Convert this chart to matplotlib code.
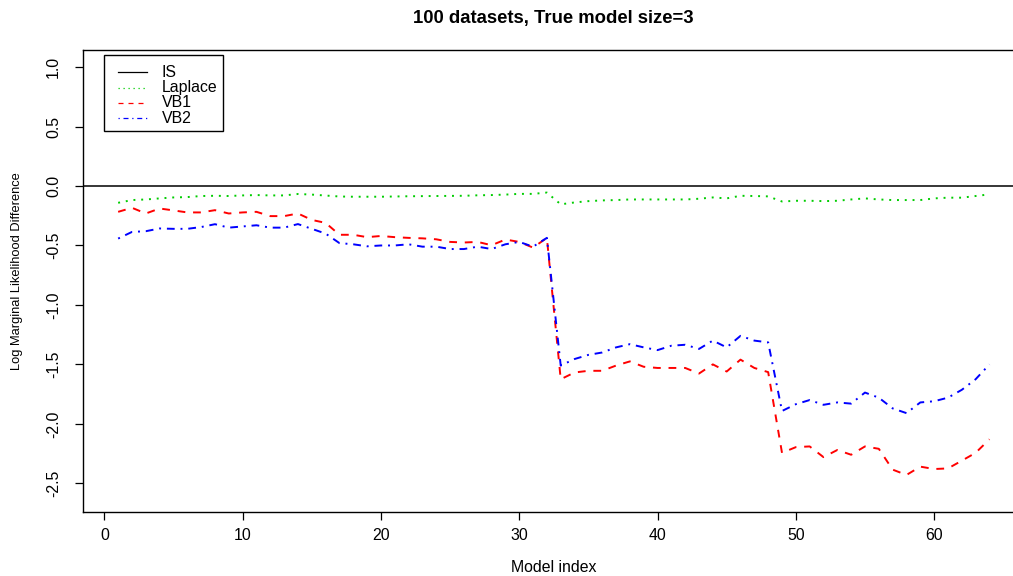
import matplotlib
matplotlib.use("Agg")
import matplotlib.pyplot as plt
from matplotlib.lines import Line2D
from matplotlib.patches import Rectangle

plt.rcParams['font.family'] = ['Liberation Sans', 'DejaVu Sans']

# model index 1..64
model_index = list(range(1, 65))

# log marginal likelihood difference relative to IS (IS itself is the zero reference)
is_diff = 0.0

laplace = [-0.141, -0.118, -0.113, -0.104, -0.096, -0.093, -0.084, -0.082, -0.084, -0.079,
           -0.076, -0.079, -0.079, -0.067, -0.072, -0.080, -0.088, -0.090, -0.090, -0.090,
           -0.088, -0.086, -0.085, -0.084, -0.083, -0.082, -0.078, -0.076, -0.072, -0.066,
           -0.066, -0.055, -0.154, -0.138, -0.127, -0.121, -0.118, -0.113, -0.113, -0.113,
           -0.113, -0.113, -0.107, -0.096, -0.104, -0.082, -0.084, -0.087, -0.130, -0.124,
           -0.124, -0.127, -0.124, -0.113, -0.104, -0.113, -0.118, -0.118, -0.118, -0.104,
           -0.098, -0.098, -0.084, -0.070]

vb1 = [-0.217, -0.183, -0.231, -0.189, -0.205, -0.222, -0.222, -0.203, -0.231, -0.222,
       -0.217, -0.253, -0.253, -0.231, -0.285, -0.310, -0.410, -0.410, -0.430, -0.420,
       -0.430, -0.436, -0.440, -0.448, -0.470, -0.475, -0.470, -0.498, -0.450, -0.470,
       -0.518, -0.436, -1.625, -1.568, -1.554, -1.554, -1.510, -1.475, -1.520, -1.530,
       -1.530, -1.530, -1.577, -1.500, -1.560, -1.460, -1.530, -1.565, -2.244, -2.196,
       -2.190, -2.280, -2.220, -2.260, -2.190, -2.210, -2.385, -2.430, -2.360, -2.380,
       -2.375, -2.310, -2.244, -2.130]

vb2 = [-0.442, -0.386, -0.380, -0.357, -0.360, -0.360, -0.345, -0.321, -0.350, -0.340,
       -0.330, -0.350, -0.350, -0.320, -0.360, -0.400, -0.480, -0.490, -0.507, -0.500,
       -0.500, -0.490, -0.510, -0.510, -0.530, -0.530, -0.510, -0.530, -0.490, -0.470,
       -0.510, -0.436, -1.510, -1.455, -1.420, -1.400, -1.357, -1.330, -1.357, -1.380,
       -1.343, -1.335, -1.370, -1.300, -1.357, -1.260, -1.300, -1.315, -1.892, -1.835,
       -1.800, -1.840, -1.820, -1.830, -1.737, -1.780, -1.870, -1.910, -1.820, -1.810,
       -1.780, -1.714, -1.625, -1.500]

labels = ["IS", "Laplace", "VB1", "VB2"]
colors = ["black", "#00CD00", "#FF0000", "#0000FF"]
dash_styles = [None, (1, 3), (4, 4), (1, 3, 4, 3)]

x_ticks = [0, 10, 20, 30, 40, 50, 60]
y_ticks = [-2.5, -2.0, -1.5, -1.0, -0.5, 0.0, 0.5, 1.0]

W, H = 1013, 576
fs = 11.4
fig = plt.figure(figsize=(W / 100, H / 100), dpi=100)
# axes box runs a little past the right edge of the picture
ax = fig.add_axes([83.3 / W, 1 - 512.3 / H, 941.0 / W, 462.3 / H])

lw = 1.4
ax.axhline(is_diff, color=colors[0], lw=1.1)
ax.plot(model_index, laplace, color=colors[1], lw=lw, dashes=dash_styles[1])
ax.plot(model_index, vb1, color=colors[2], lw=lw, dashes=dash_styles[2])
ax.plot(model_index, vb2, color=colors[3], lw=lw, dashes=dash_styles[3])

ax.set_xlim(-1.52, 66.52)
ax.set_ylim(-2.744, 1.144)
ax.set_xticks(x_ticks)
ax.set_yticks(y_ticks)
ax.set_yticklabels(["%.1f" % v for v in y_ticks], rotation=90, va="center")
ax.tick_params(axis="both", direction="out", length=5.5, width=0.9, labelsize=fs, color="black")
ax.tick_params(axis="x", pad=6)
ax.tick_params(axis="y", pad=10.6)
for s in ax.spines.values():
    s.set_linewidth(1.0)

fig.text(553.8 / W, 1 - 19 / H, "100 datasets, True model size=3",
         ha="center", va="center", fontsize=13.3, fontweight="bold")
fig.text(553.8 / W, 1 - 567 / H, "Model index", ha="center", va="center", fontsize=fs)
fig.text(17.5 / W, 1 - 271 / H, "Log Marginal Likelihood Difference", ha="center", va="center",
         rotation=90, fontsize=9.3)

# legend drawn by hand, R style (box, short line samples, labels)
def px(x, y):
    return x / W, 1 - y / H

box_l, box_t, box_r, box_b = 104.3, 55.0, 223.3, 131.0
ax.add_patch(Rectangle(px(box_l, box_b), (box_r - box_l) / W, (box_b - box_t) / H,
                       transform=fig.transFigure, fill=True, facecolor="white",
                       edgecolor="black", lw=1.0, zorder=5))
row0, row_step = 72.3, 15.33
for k, lab in enumerate(labels):
    yk = row0 + row_step * k
    x0, y0 = px(118, yk)
    x1, _ = px(147, yk)
    ln = Line2D([x0, x1], [y0, y0], transform=fig.transFigure, color=colors[k], lw=0.9, zorder=6)
    if dash_styles[k] is not None:
        ln.set_dashes(dash_styles[k])
    fig.add_artist(ln)
    tx, ty = px(161.7, yk)
    fig.text(tx, ty, lab, ha="left", va="center", fontsize=fs, zorder=6)

fig.savefig("out.png", dpi=100)
